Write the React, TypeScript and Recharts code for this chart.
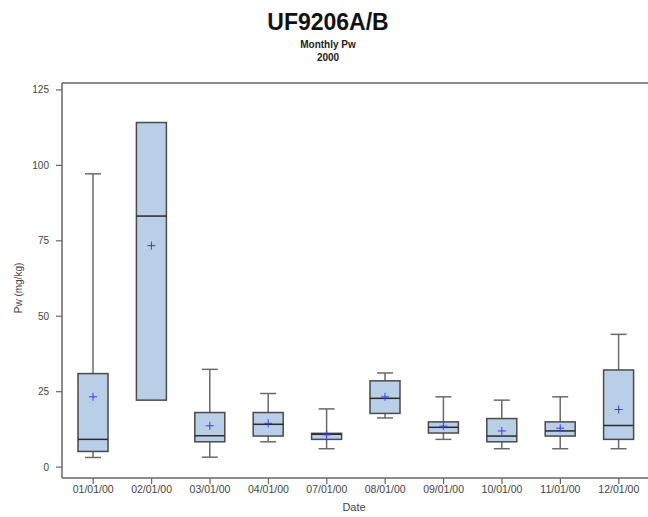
import React from 'react';
import { ComposedChart, Bar, XAxis, YAxis, ReferenceLine } from 'recharts';

const dates = ['01/01/00', '02/01/00', '03/01/00', '04/01/00', '07/01/00', '08/01/00', '09/01/00', '10/01/00', '11/01/00', '12/01/00'];
const mins = [3.2, 22.2, 3.3, 8.4, 6.1, 16.3, 9.2, 6.1, 6.1, 6.1];
const q1s = [5.2, 22.2, 8.4, 10.3, 9.2, 17.8, 11.3, 8.4, 10.3, 9.2];
const medians = [9.2, 83.2, 10.4, 14.2, 10.9, 22.8, 13.2, 10.3, 12.0, 13.8];
const q3s = [31.0, 114.2, 18.1, 18.1, 11.2, 28.6, 15.0, 16.1, 15.0, 32.2];
const maxs = [97.2, 114.2, 32.4, 24.4, 19.3, 31.2, 23.3, 22.2, 23.3, 44.0];
const means = [23.3, 73.4, 13.7, 14.5, 10.7, 23.3, 13.6, 12.0, 12.9, 19.1];
const yTicks = [0, 25, 50, 75, 100, 125];

const data = dates.map((d, i) => ({
  date: d,
  min: mins[i],
  q1: q1s[i],
  median: medians[i],
  q3: q3s[i],
  max: maxs[i],
  mean: means[i],
}));

const FONT = '"Liberation Sans", Arial, sans-serif';
const Y_MIN = -3.6;
const Y_MAX = 127.3;

const BoxShape = (props: any) => {
  const { x, y, width, height, payload } = props;
  if (x == null || y == null || !payload) return null;
  const { min, q1, median, q3, max, mean } = payload;
  const span = max - min;
  const py = (v: number) => (span === 0 ? y : y + (height * (max - v)) / span);
  const cx = x + width / 2;
  const capHalf = 8;
  const yMax = py(max);
  const yQ3 = py(q3);
  const yQ1 = py(q1);
  const yMin = py(min);
  const yMed = py(median);
  const yMean = py(mean);
  return (
    <g>
      {max > q3 && (
        <g stroke="#6a6a6a" strokeWidth={1.5}>
          <line x1={cx} x2={cx} y1={yMax} y2={yQ3} />
          <line x1={cx - capHalf} x2={cx + capHalf} y1={yMax} y2={yMax} />
        </g>
      )}
      {min < q1 && (
        <g stroke="#6a6a6a" strokeWidth={1.5}>
          <line x1={cx} x2={cx} y1={yQ1} y2={yMin} />
          <line x1={cx - capHalf} x2={cx + capHalf} y1={yMin} y2={yMin} />
        </g>
      )}
      <rect x={x} y={yQ3} width={width} height={yQ1 - yQ3} fill="#b9cfe8" stroke="#4a4a4a" strokeWidth={1.5} />
      <line x1={x} x2={x + width} y1={yMed} y2={yMed} stroke="#2a2a2a" strokeWidth={1.5} />
      <g stroke="#3a3aff" strokeWidth={1}>
        <line x1={cx - 4} x2={cx + 4} y1={yMean} y2={yMean} />
        <line x1={cx} x2={cx} y1={yMean - 4} y2={yMean + 4} />
      </g>
    </g>
  );
};

export default function App() {
  return (
    <div style={{ position: 'absolute', left: 0, top: 0, width: 648, height: 517, background: '#fff', fontFamily: FONT }}>
      <ComposedChart
        width={648}
        height={517}
        data={data}
        margin={{ top: 83, right: 0, bottom: 9, left: 0 }}
        style={{ fontFamily: FONT }}
      >
        <XAxis
          dataKey="date"
          type="category"
          height={30}
          padding={{ left: 2, right: 0 }}
          tickSize={6}
          tickMargin={2}
          tick={{ fontSize: 10.5, fill: '#444', fontFamily: FONT }}
          axisLine={{ stroke: '#666', strokeWidth: 1.5 }}
          tickLine={{ stroke: '#666', strokeWidth: 1.2 }}
          interval={0}
        />
        <YAxis
          type="number"
          domain={[Y_MIN, Y_MAX]}
          allowDataOverflow
          ticks={yTicks}
          width={62}
          tickSize={6}
          tickMargin={7}
          tick={{ fontSize: 10, fill: '#444', fontFamily: FONT }}
          axisLine={{ stroke: '#666', strokeWidth: 1.5 }}
          tickLine={{ stroke: '#666', strokeWidth: 1.2 }}
        />
        <ReferenceLine y={Y_MAX} stroke="#666" strokeWidth={1.5} ifOverflow="visible" />
        <Bar
          dataKey={(d: any) => [d.min, d.max]}
          barSize={30}
          shape={<BoxShape />}
          isAnimationActive={false}
        />
      </ComposedChart>
      <svg width={648} height={517} style={{ position: 'absolute', left: 0, top: 0, pointerEvents: 'none' }}>
        <text x={328} y={30} textAnchor="middle" fontSize={23} fontWeight="bold" fill="#111" fontFamily={FONT}>UF9206A/B</text>
        <text x={328} y={48} textAnchor="middle" fontSize={10} fontWeight="bold" fill="#222" fontFamily={FONT}>Monthly Pw</text>
        <text x={328} y={61} textAnchor="middle" fontSize={10} fontWeight="bold" fill="#222" fontFamily={FONT}>2000</text>
        <text x={22} y={288} textAnchor="middle" fontSize={10} fill="#444" fontFamily={FONT} transform="rotate(-90 22 288)">Pw (mg/kg)</text>
        <text x={354} y={511} textAnchor="middle" fontSize={11} fill="#444" fontFamily={FONT}>Date</text>
      </svg>
    </div>
  );
}
